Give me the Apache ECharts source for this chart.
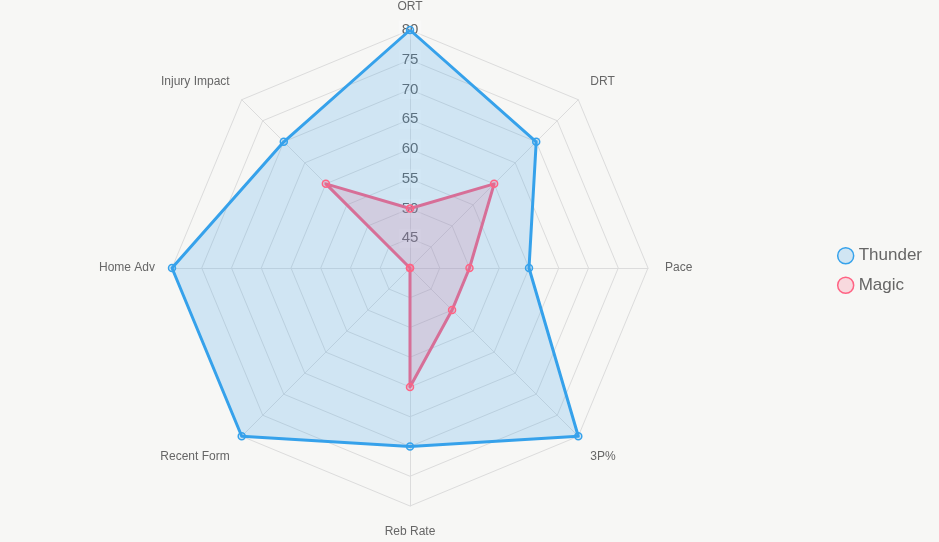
<!DOCTYPE html>
<html>
<head>
<meta charset="utf-8">
<style>
html,body{margin:0;padding:0;background:#f7f7f5;}
#c{width:939px;height:542px;}
</style>
<script src="https://cdn.jsdelivr.net/npm/echarts@6/dist/echarts.min.js"></script>
</head>
<body>
<div id="c"></div>
<script>
var categories = ['ORT', 'DRT', 'Pace', '3P%', 'Reb Rate', 'Recent Form', 'Home Adv', 'Injury Impact'];
var thunderValues = [80, 70, 60, 80, 70, 80, 80, 70];
var magicValues = [50, 60, 50, 50, 60, 40, 40, 60];
var scaleMin = 40, scaleMax = 80, scaleStep = 5;

// ECharts radar runs counter-clockwise; reorder so the axes read clockwise
var order = [0].concat(categories.map(function (_, i) { return i; }).slice(1).reverse());
function pick(arr) { return order.map(function (i) { return arr[i]; }); }

var font = "'Liberation Sans', Arial, Helvetica, sans-serif";
var nameBase = { color: '#666', fontSize: 12, fontFamily: font };
function nameStyle(pad) { return Object.assign({ padding: pad }, nameBase); }

var chart = echarts.init(document.getElementById('c'));
chart.setOption({
  backgroundColor: '#f7f7f5',
  animation: false,
  textStyle: { fontFamily: font },
  legend: {
    orient: 'vertical', right: 12, top: 242,
    icon: 'circle', itemWidth: 16, itemHeight: 16, itemGap: 12,
    textStyle: { fontSize: 17, color: '#666', fontFamily: font },
    data: [
      { name: 'Thunder', itemStyle: { color: 'rgba(54,162,235,0.2)', borderColor: '#36a2eb', borderWidth: 1.5 } },
      { name: 'Magic', itemStyle: { color: 'rgba(255,99,132,0.2)', borderColor: '#ff6384', borderWidth: 1.5 } }
    ]
  },
  radar: {
    center: [410, 268], radius: 238, shape: 'polygon', splitNumber: 8,
    startAngle: 90,
    indicator: pick(categories).map(function (c) { return { name: c, min: scaleMin, max: scaleMax }; }),
    axisName: {
      color: '#666', fontSize: 12, fontFamily: font,
      formatter: function (name) {
        var idx = categories.indexOf(name);
        if (idx === 1 || idx === 7) return '{up|' + name + '}';
        if (idx === 3 || idx === 5) return '{dn|' + name + '}';
        if (idx === 4) return '{bt|' + name + '}';
        return '{n|' + name + '}';
      },
      rich: {
        up: nameStyle([0, 0, 12, 0]),
        dn: nameStyle([16, 0, 0, 0]),
        bt: nameStyle([3, 0, 0, 0]),
        n: nameStyle([0, 0, 0, 0])
      }
    },
    nameGap: 17,
    splitLine: { lineStyle: { color: '#dcdcdc', width: 1 } },
    splitArea: { show: false },
    axisLine: { lineStyle: { color: '#dcdcdc', width: 1 } },
    axisTick: { show: false },
    axisLabel: { show: false }
  },
  polar: { center: [410, 268], radius: 238 },
  angleAxis: { show: false, startAngle: 90, min: 0, max: 360 },
  radiusAxis: {
    min: scaleMin, max: scaleMax, interval: scaleStep, z: 1,
    axisLine: { show: false }, axisTick: { show: false }, splitLine: { show: false },
    axisLabel: {
      show: true, margin: 0, align: 'center', verticalAlign: 'middle',
      color: '#666', fontSize: 15, fontFamily: font,
      backgroundColor: 'rgba(255,255,255,0.3)', padding: [2, 3],
      formatter: function (v) { return v === scaleMin ? '' : String(v); }
    }
  },
  series: [
    {
      name: 'Magic', type: 'radar', z: 2,
      symbol: 'circle', symbolSize: 7,
      lineStyle: { color: '#ff6384', width: 3 },
      itemStyle: { color: 'rgba(255,99,132,0.2)', borderColor: '#ff6384', borderWidth: 1.5 },
      areaStyle: { color: 'rgba(255,99,132,0.2)', opacity: 1 },
      data: [{ value: pick(magicValues), name: 'Magic' }]
    },
    {
      name: 'Thunder', type: 'radar', z: 2,
      symbol: 'circle', symbolSize: 7,
      lineStyle: { color: '#36a2eb', width: 3 },
      itemStyle: { color: 'rgba(54,162,235,0.2)', borderColor: '#36a2eb', borderWidth: 1.5 },
      areaStyle: { color: 'rgba(54,162,235,0.2)', opacity: 1 },
      data: [{ value: pick(thunderValues), name: 'Thunder' }]
    }
  ]
});
</script>
</body>
</html>
